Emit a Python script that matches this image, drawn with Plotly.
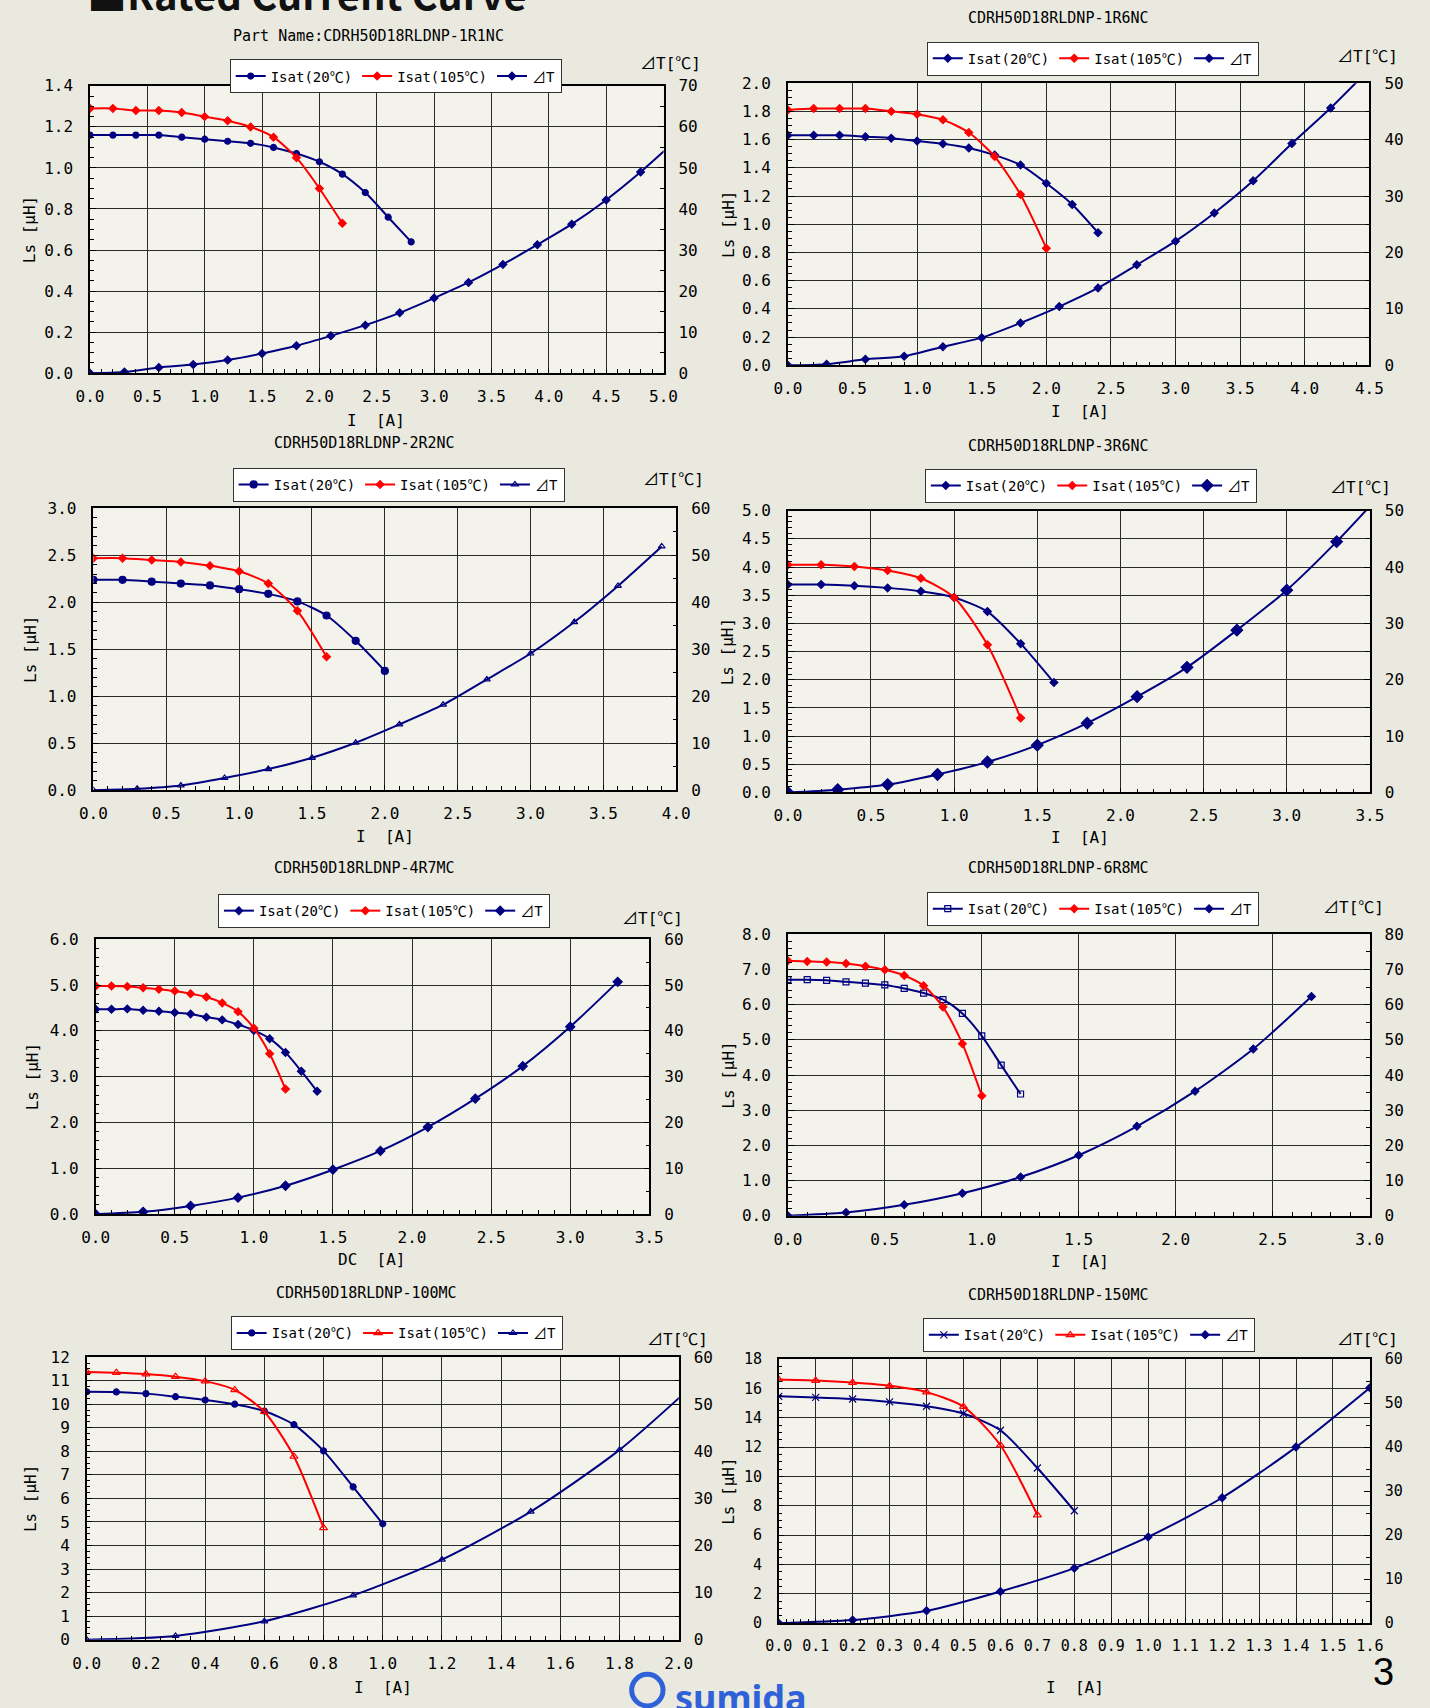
import plotly.graph_objects as go

W, H = 1430, 1708
NAVY = '#000080'
RED = '#ff0000'
FONT = 'DejaVu Sans Mono, Noto Sans CJK JP, monospace'

# ---------------- data ----------------
# Chart 1 : CDRH50D18RLDNP-1R1NC
c1_i20_x = [0.0, 0.2, 0.4, 0.6, 0.8, 1.0, 1.2, 1.4, 1.6, 1.8, 2.0, 2.2, 2.4, 2.6, 2.8]
c1_i20_ls = [1.16, 1.16, 1.16, 1.16, 1.15, 1.14, 1.13, 1.12, 1.10, 1.07, 1.03, 0.97, 0.88, 0.76, 0.64]
c1_i105_x = [0.0, 0.2, 0.4, 0.6, 0.8, 1.0, 1.2, 1.4, 1.6, 1.8, 2.0, 2.2]
c1_i105_ls = [1.29, 1.29, 1.28, 1.28, 1.27, 1.25, 1.23, 1.20, 1.15, 1.05, 0.90, 0.73]
c1_dt_x = [0.0, 0.3, 0.6, 0.9, 1.2, 1.5, 1.8, 2.1, 2.4, 2.7, 3.0, 3.3, 3.6, 3.9, 4.2, 4.5, 4.8, 5.1]
c1_dt = [0, 0.3, 1.4, 2.1, 3.2, 4.8, 6.7, 9.1, 11.7, 14.7, 18.3, 22.1, 26.5, 31.3, 36.3, 42.2, 49.0, 56.5]

# Chart 2 : CDRH50D18RLDNP-1R6NC
c2_i20_x = [0.0, 0.2, 0.4, 0.6, 0.8, 1.0, 1.2, 1.4, 1.6, 1.8, 2.0, 2.2, 2.4]
c2_i20_ls = [1.63, 1.63, 1.63, 1.62, 1.61, 1.59, 1.57, 1.54, 1.49, 1.42, 1.29, 1.14, 0.94]
c2_i105_x = [0.0, 0.2, 0.4, 0.6, 0.8, 1.0, 1.2, 1.4, 1.6, 1.8, 2.0]
c2_i105_ls = [1.81, 1.82, 1.82, 1.82, 1.80, 1.78, 1.74, 1.65, 1.48, 1.21, 0.83]
c2_dt_x = [0.0, 0.3, 0.6, 0.9, 1.2, 1.5, 1.8, 2.1, 2.4, 2.7, 3.0, 3.3, 3.6, 3.9, 4.2, 4.5]
c2_dt = [0, 0.2, 1.05, 1.6, 3.3, 4.9, 7.5, 10.4, 13.7, 17.8, 22.0, 27.0, 32.7, 39.3, 45.6, 52.5]

# Chart 3 : CDRH50D18RLDNP-2R2NC
c3_i20_x = [0.0, 0.2, 0.4, 0.6, 0.8, 1.0, 1.2, 1.4, 1.6, 1.8, 2.0]
c3_i20_ls = [2.24, 2.24, 2.22, 2.20, 2.18, 2.14, 2.09, 2.01, 1.86, 1.59, 1.27]
c3_i105_x = [0.0, 0.2, 0.4, 0.6, 0.8, 1.0, 1.2, 1.4, 1.6]
c3_i105_ls = [2.47, 2.47, 2.45, 2.43, 2.39, 2.33, 2.20, 1.91, 1.42]
c3_dt_x = [0.0, 0.3, 0.6, 0.9, 1.2, 1.5, 1.8, 2.1, 2.4, 2.7, 3.0, 3.3, 3.6, 3.9]
c3_dt = [0, 0.3, 1.0, 2.6, 4.5, 6.9, 10.1, 14.0, 18.2, 23.6, 29.1, 35.8, 43.5, 51.9]

# Chart 4 : CDRH50D18RLDNP-3R6NC
c4_i20_x = [0.0, 0.2, 0.4, 0.6, 0.8, 1.0, 1.2, 1.4, 1.6]
c4_i20_ls = [3.69, 3.69, 3.67, 3.63, 3.57, 3.46, 3.21, 2.64, 1.95]
c4_i105_x = [0.0, 0.2, 0.4, 0.6, 0.8, 1.0, 1.2, 1.4]
c4_i105_ls = [4.04, 4.04, 4.01, 3.94, 3.80, 3.46, 2.62, 1.32]
c4_dt_x = [0.0, 0.3, 0.6, 0.9, 1.2, 1.5, 1.8, 2.1, 2.4, 2.7, 3.0, 3.3, 3.6]
c4_dt = [0, 0.5, 1.4, 3.2, 5.4, 8.4, 12.3, 17.0, 22.2, 28.8, 35.9, 44.5, 54.0]

# Chart 5 : CDRH50D18RLDNP-4R7MC
c5_i20_x = [0.0, 0.1, 0.2, 0.3, 0.4, 0.5, 0.6, 0.7, 0.8, 0.9, 1.0, 1.1, 1.2, 1.3, 1.4]
c5_i20_ls = [4.47, 4.47, 4.48, 4.45, 4.43, 4.40, 4.37, 4.30, 4.24, 4.14, 4.01, 3.83, 3.53, 3.12, 2.68]
c5_i105_x = [0.0, 0.1, 0.2, 0.3, 0.4, 0.5, 0.6, 0.7, 0.8, 0.9, 1.0, 1.1, 1.2]
c5_i105_ls = [4.98, 4.98, 4.97, 4.94, 4.91, 4.87, 4.81, 4.74, 4.61, 4.42, 4.06, 3.50, 2.73]
c5_dt_x = [0.0, 0.3, 0.6, 0.9, 1.2, 1.5, 1.8, 2.1, 2.4, 2.7, 3.0, 3.3]
c5_dt = [0, 0.5, 1.8, 3.6, 6.2, 9.7, 13.8, 19.0, 25.2, 32.3, 40.9, 50.7]

# Chart 6 : CDRH50D18RLDNP-6R8MC
c6_i20_x = [0.0, 0.1, 0.2, 0.3, 0.4, 0.5, 0.6, 0.7, 0.8, 0.9, 1.0, 1.1, 1.2]
c6_i20_ls = [6.71, 6.71, 6.69, 6.65, 6.61, 6.56, 6.46, 6.33, 6.14, 5.75, 5.11, 4.28, 3.46]
c6_i105_x = [0.0, 0.1, 0.2, 0.3, 0.4, 0.5, 0.6, 0.7, 0.8, 0.9, 1.0]
c6_i105_ls = [7.25, 7.23, 7.21, 7.17, 7.09, 6.99, 6.83, 6.54, 5.93, 4.89, 3.41]
c6_dt_x = [0.0, 0.3, 0.6, 0.9, 1.2, 1.5, 1.8, 2.1, 2.4, 2.7]
c6_dt = [0, 0.9, 3.1, 6.4, 11.0, 17.2, 25.4, 35.4, 47.4, 62.3]

# Chart 7 : CDRH50D18RLDNP-100MC
c7_i20_x = [0.0, 0.1, 0.2, 0.3, 0.4, 0.5, 0.6, 0.7, 0.8, 0.9, 1.0]
c7_i20_ls = [10.53, 10.52, 10.45, 10.32, 10.18, 10.0, 9.71, 9.13, 8.02, 6.49, 4.92]
c7_i105_x = [0.0, 0.1, 0.2, 0.3, 0.4, 0.5, 0.6, 0.7, 0.8]
c7_i105_ls = [11.37, 11.34, 11.28, 11.17, 10.98, 10.61, 9.68, 7.78, 4.75]
c7_dt_x = [0.0, 0.3, 0.6, 0.9, 1.2, 1.5, 1.8, 2.1]
c7_dt = [0, 0.8, 3.9, 9.4, 17.0, 27.2, 40.3, 57.0]

# Chart 8 : CDRH50D18RLDNP-150MC
c8_i20_x = [0.0, 0.1, 0.2, 0.3, 0.4, 0.5, 0.6, 0.7, 0.8]
c8_i20_ls = [15.46, 15.39, 15.28, 15.08, 14.79, 14.29, 13.15, 10.58, 7.66]
c8_i105_x = [0.0, 0.1, 0.2, 0.3, 0.4, 0.5, 0.6, 0.7]
c8_i105_ls = [16.61, 16.54, 16.40, 16.18, 15.75, 14.76, 12.13, 7.37]
c8_dt_x = [0.0, 0.2, 0.4, 0.6, 0.8, 1.0, 1.2, 1.4, 1.6]
c8_dt = [0, 0.7, 2.8, 7.2, 12.5, 19.6, 28.5, 40.0, 53.5]

part_names = ['Part Name:CDRH50D18RLDNP-1R1NC', 'CDRH50D18RLDNP-1R6NC',
              'CDRH50D18RLDNP-2R2NC', 'CDRH50D18RLDNP-3R6NC',
              'CDRH50D18RLDNP-4R7MC', 'CDRH50D18RLDNP-6R8MC',
              'CDRH50D18RLDNP-100MC', 'CDRH50D18RLDNP-150MC']
x_titles = ['I  [A]', 'I  [A]', 'I  [A]', 'I  [A]', 'DC  [A]', 'I  [A]', 'I  [A]', 'I  [A]']
series_names = ['Isat(20℃)', 'Isat(105℃)', '⊿T']

# ---------------- layout / style configuration ----------------
charts = [
    dict(data=(c1_i20_x, c1_i20_ls, c1_i105_x, c1_i105_ls, c1_dt_x, c1_dt),
         box=(77.5, 662.5, 77.7, 368.3), xr=(0, 5.0), xd=0.5, xm=0.1, yr=(0, 1.4), yd=0.2, ym=0.05, yf='.1f',
         y2r=(0, 70), sym=('circle', 'diamond', 'diamond'), sz=(6, 6, 6),
         title_xy=(362, 27), leg=(220, 51), dtl=(670, 55), xt_xy=(369, 416), yt_x=16),
    dict(data=(c2_i20_x, c2_i20_ls, c2_i105_x, c2_i105_ls, c2_dt_x, c2_dt),
         box=(789.3, 1382.5, 75.0, 360.3), xr=(0, 4.5), xd=0.5, xm=0.1, yr=(0, 2.0), yd=0.2, ym=0.05, yf='.1f',
         y2r=(0, 50), sym=('diamond', 'diamond', 'diamond'), sz=(6, 6, 6),
         title_xy=(1065, 9), leg=(931, 33), dtl=(1381, 48), xt_xy=(1087, 407), yt_x=728),
    dict(data=(c3_i20_x, c3_i20_ls, c3_i105_x, c3_i105_ls, c3_dt_x, c3_dt),
         box=(81.0, 675.5, 505.0, 790.0), xr=(0, 4.0), xd=0.5, xm=0.1, yr=(0, 3.0), yd=0.5, ym=0.1, yf='.1f',
         y2r=(0, 60), sym=('circle', 'diamond', 'triangle-up-open'), sz=(7, 6, 6),
         title_xy=(357, 439), leg=(223, 464), dtl=(673, 476), xt_xy=(378, 837), yt_x=17),
    dict(data=(c4_i20_x, c4_i20_ls, c4_i105_x, c4_i105_ls, c4_dt_x, c4_dt),
         box=(789.3, 1383.0, 507.3, 792.3), xr=(0, 3.5), xd=0.5, xm=0.1, yr=(0, 5.0), yd=0.5, ym=0.1, yf='.1f',
         y2r=(0, 50), sym=('diamond', 'diamond', 'diamond'), sz=(6, 6, 9),
         title_xy=(1065, 442), leg=(929, 465), dtl=(1373, 484), xt_xy=(1087, 838), yt_x=728),
    dict(data=(c5_i20_x, c5_i20_ls, c5_i105_x, c5_i105_ls, c5_dt_x, c5_dt),
         box=(83.3, 648.0, 940.7, 1218.7), xr=(0, 3.5), xd=0.5, xm=0.1, yr=(0, 6.0), yd=1.0, ym=0.2, yf='.1f',
         y2r=(0, 60), sym=('diamond', 'diamond', 'diamond'), sz=(6, 6, 7),
         title_xy=(357, 869), leg=(208, 895), dtl=(651, 920), xt_xy=(365, 1265), yt_x=19),
    dict(data=(c6_i20_x, c6_i20_ls, c6_i105_x, c6_i105_ls, c6_dt_x, c6_dt),
         box=(789.3, 1382.7, 935.7, 1220.3), xr=(0, 3.0), xd=0.5, xm=0.1, yr=(0, 8.0), yd=1.0, ym=0.2, yf='.1f',
         y2r=(0, 80), sym=('square-open', 'diamond', 'diamond'), sz=(6, 6, 6),
         title_xy=(1065, 869), leg=(931, 893), dtl=(1366, 909), xt_xy=(1087, 1267), yt_x=728),
    dict(data=(c7_i20_x, c7_i20_ls, c7_i105_x, c7_i105_ls, c7_dt_x, c7_dt),
         box=(74.2, 678.0, 1363.3, 1649.0), xr=(0, 2.0), xd=0.2, xm=0.05, yr=(0, 12), yd=1, ym=0.25, yf='d',
         y2r=(0, 60), sym=('circle', 'triangle-up-open', 'triangle-up-open'), sz=(6, 7, 6),
         title_xy=(360, 1298), leg=(221, 1322), dtl=(677, 1345), xt_xy=(376, 1697), yt_x=17),
    dict(data=(c8_i20_x, c8_i20_ls, c8_i105_x, c8_i105_ls, c8_dt_x, c8_dt),
         box=(780.0, 1383.0, 1365.3, 1632.3), xr=(0, 1.6), xd=0.1, xm=0.02, yr=(0, 18), yd=2, ym=0.5, yf='d',
         y2r=(0, 60), sym=('x-thin-open', 'triangle-up-open', 'diamond'), sz=(7, 7, 6),
         title_xy=(1065, 1300), leg=(927, 1324), dtl=(1381, 1345), xt_xy=(1082, 1697), yt_x=728),
]

fig = go.Figure()
layout = dict(
    width=W, height=H, margin=dict(l=0, r=0, t=0, b=0),
    paper_bgcolor='#e9e9df', plot_bgcolor='#f3f3ec',
    font=dict(family=FONT, color='black'),
    showlegend=True, annotations=[], shapes=[],
)

for k, c in enumerate(charts, start=1):
    xa = 'x' if k == 1 else f'x{k}'
    ya = 'y' if k == 1 else f'y{2 * k - 1}'
    yb = f'y{2 * k}'
    lg = 'legend' if k == 1 else f'legend{k}'
    ix, il, rx, rl, tx, tv = c['data']
    cols = (NAVY, RED, NAVY)
    xs = (ix, rx, tx)
    ys = (il, rl, tv)
    axes = (ya, ya, yb)
    for j in range(3):
        fig.add_trace(go.Scatter(
            x=xs[j], y=ys[j], xaxis=xa, yaxis=axes[j], legend=lg, name=series_names[j],
            mode='lines+markers', cliponaxis=True,
            line=dict(color=cols[j], width=2, shape='spline', smoothing=0.7),
            marker=dict(symbol=c['sym'][j], size=c['sz'][j], color=cols[j],
                        line=dict(color=cols[j], width=1.2)),
        ))

    x0, x1, y0, y1 = c['box']
    xdom = [x0 / W, x1 / W]
    ydom = [1 - y1 / H, 1 - y0 / H]
    tick_font = dict(family=FONT, size=15 if k == 8 else 16, color='black')
    layout['xaxis' if k == 1 else f'xaxis{k}'] = dict(
        domain=xdom, anchor=ya, range=list(c['xr']), tick0=0, dtick=c['xd'], tickformat='.1f',
        showgrid=True, gridcolor='#2a2a2a', gridwidth=1, zeroline=False,
        showline=True, linecolor='black', linewidth=1.5, mirror=True,
        ticks='inside', ticklen=5, tickcolor='black',
        minor=dict(ticks='inside', ticklen=4, dtick=c['xm'], tickcolor='black', showgrid=False),
        tickfont=tick_font, ticklabelstandoff=8, fixedrange=True,
    )
    layout['yaxis' if k == 1 else f'yaxis{2 * k - 1}'] = dict(
        domain=ydom, anchor=xa, range=list(c['yr']), tick0=0, dtick=c['yd'], tickformat=c['yf'],
        showgrid=True, gridcolor='#2a2a2a', gridwidth=1, zeroline=False,
        showline=True, linecolor='black', linewidth=1.5, mirror=True,
        ticks='inside', ticklen=6, tickcolor='black',
        minor=dict(ticks='inside', ticklen=4, dtick=c['ym'], tickcolor='black', showgrid=False),
        tickfont=tick_font, ticklabelstandoff=12, fixedrange=True,
    )
    layout[f'yaxis{2 * k}'] = dict(
        overlaying=ya, side='right', anchor=xa, range=list(c['y2r']), tick0=0, dtick=10, tickformat='d',
        showgrid=False, zeroline=False, showline=True, linecolor='black', linewidth=1.5,
        ticks='inside', ticklen=6, tickcolor='black',
        minor=dict(ticks='inside', ticklen=4, dtick=5, tickcolor='black'),
        tickfont=tick_font, ticklabelstandoff=10, fixedrange=True,
    )
    lx, ly = c['leg']
    layout[lg] = dict(
        x=lx / W, y=1 - ly / H, xanchor='left', yanchor='top', orientation='h',
        bgcolor='white', bordercolor='#333333', borderwidth=1,
        font=dict(family=FONT, size=14, color='black'), itemwidth=30, tracegroupgap=0,
        traceorder='normal',
    )
    tx_, ty_ = c['title_xy']
    layout['annotations'].append(dict(
        text=part_names[k - 1], x=tx_ / W, y=1 - ty_ / H, xref='paper', yref='paper',
        xanchor='center', yanchor='middle', showarrow=False,
        font=dict(family=FONT, size=15, color='black')))
    ax_, ay_ = c['xt_xy']
    layout['annotations'].append(dict(
        text=x_titles[k - 1], x=ax_ / W, y=1 - ay_ / H, xref='paper', yref='paper',
        xanchor='center', yanchor='middle', showarrow=False,
        font=dict(family=FONT, size=16, color='black')))
    layout['annotations'].append(dict(
        text='Ls [μH]', x=c['yt_x'] / W, y=1 - ((y0 + y1) / 2) / H, xref='paper', yref='paper',
        xanchor='center', yanchor='middle', textangle=-90, showarrow=False,
        font=dict(family=FONT, size=16, color='black')))
    dx_, dy_ = c['dtl']
    layout['annotations'].append(dict(
        text='⊿T[℃]', x=dx_ / W, y=1 - dy_ / H, xref='paper', yref='paper',
        xanchor='center', yanchor='middle', showarrow=False,
        font=dict(family=FONT, size=16, color='black')))

# page header (cut off at the top edge, as in the source), logo and page number
layout['annotations'].append(dict(
    text='<b>■Rated Current Curve</b>', x=72 / W, y=1 + 16 / H, xref='paper', yref='paper',
    xanchor='left', yanchor='middle', showarrow=False,
    font=dict(family='Noto Sans CJK JP, Noto Sans', size=40, color='#111111')))
layout['annotations'].append(dict(
    text='<b>sumida</b>', x=672 / W, y=1 - 1707 / H, xref='paper', yref='paper',
    xanchor='left', yanchor='middle', showarrow=False,
    font=dict(family='Noto Sans, DejaVu Sans', size=36, color='#2f62d8')))
layout['annotations'].append(dict(
    text='3', x=1397 / W, y=1 - 1682 / H, xref='paper', yref='paper',
    xanchor='center', yanchor='middle', showarrow=False,
    font=dict(family='Liberation Sans, Noto Sans', size=38, color='black')))
layout['shapes'].append(dict(
    type='circle', xref='paper', yref='paper',
    x0=630 / W, x1=662 / W, y0=1 - 1716 / H, y1=1 - 1684 / H,
    line=dict(color='#2f62d8', width=5), fillcolor='rgba(0,0,0,0)', layer='above'))

fig.update_layout(**layout)
fig.write_html('out.html', config={'displayModeBar': False},
               post_script="document.body.style.margin='0';")
